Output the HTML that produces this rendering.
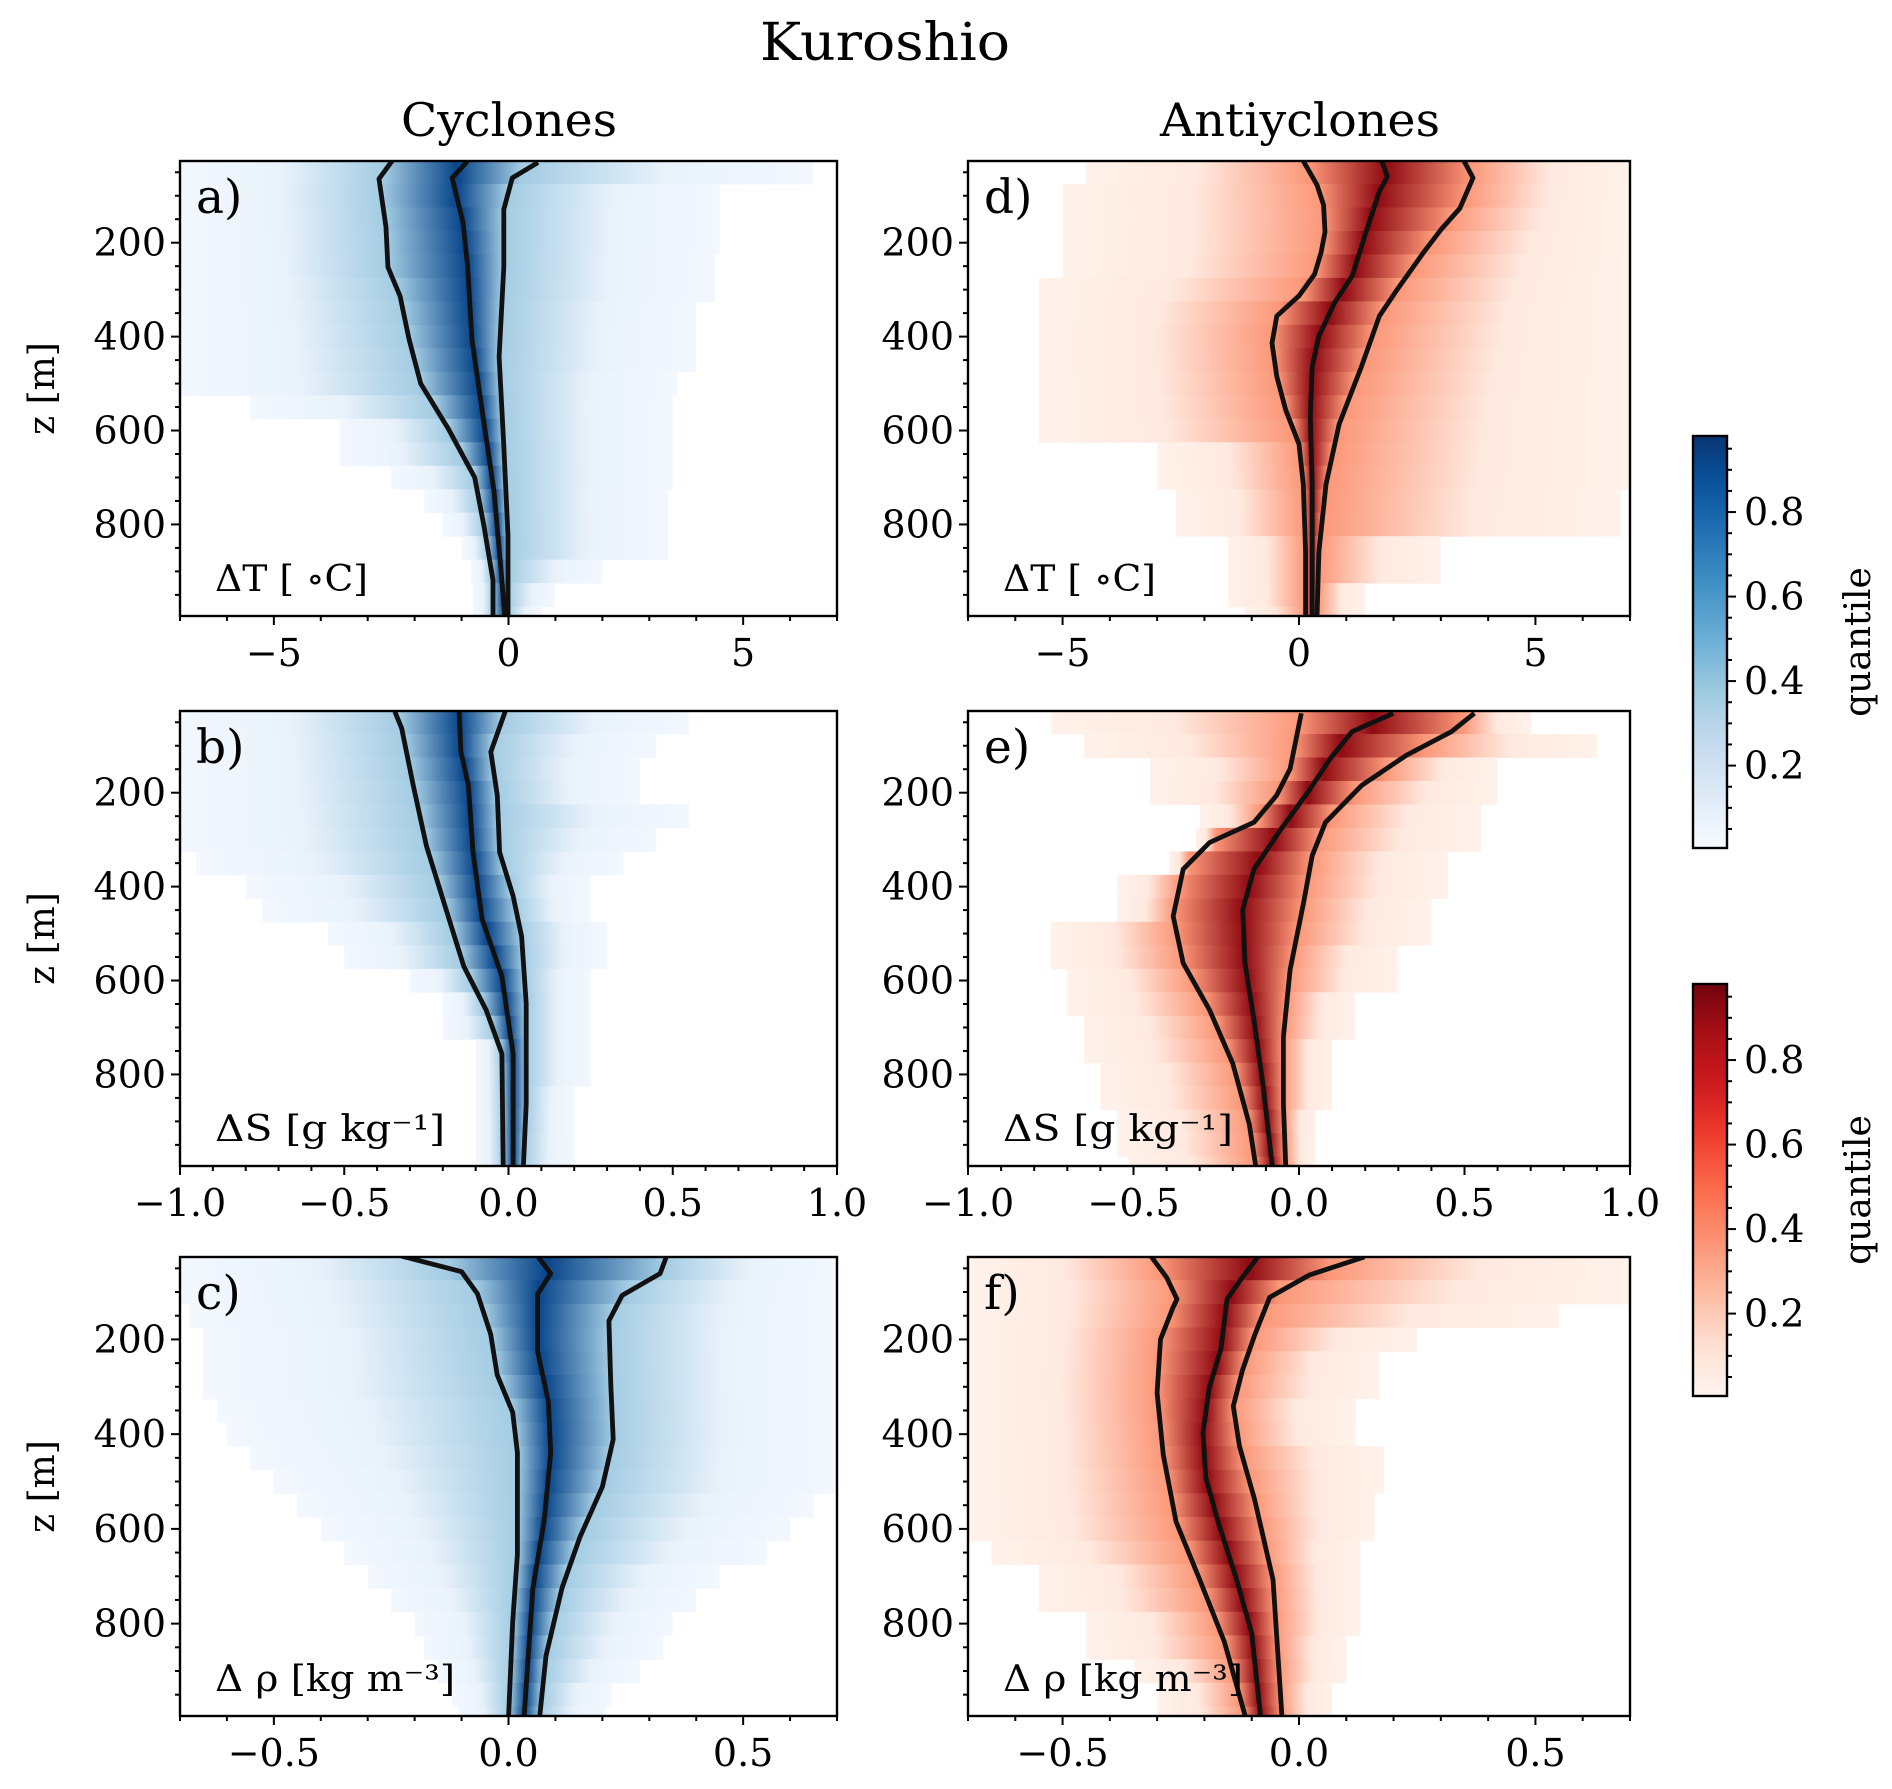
<!DOCTYPE html>
<html><head><meta charset="utf-8">
<style>
html,body{margin:0;padding:0;background:#fff;}
svg{display:block;font-family:"DejaVu Serif","Liberation Serif",serif;}
</style></head>
<body>
<svg id="fig" width="1892" height="1789" viewBox="0 0 1892 1789" xmlns="http://www.w3.org/2000/svg">
<defs id="defs"></defs>
<text x="885" y="60" font-size="52" text-anchor="middle" textLength="250" lengthAdjust="spacingAndGlyphs">Kuroshio</text>
<text x="509" y="136" font-size="46" text-anchor="middle" textLength="216" lengthAdjust="spacingAndGlyphs">Cyclones</text>
<text x="1300" y="136" font-size="46" text-anchor="middle" textLength="280" lengthAdjust="spacingAndGlyphs">Antiyclones</text>
</svg>
<script>
// ---- data: depth bins for extents ----
const extZ = [50,100,150,200,250,300,350,400,450,500,550,600,650,700,750,800,850,900,950,1000];
// panel a (dT cyclones)
const aLz=[26,64,167,252,314,405,500,595,700,805,919,995];
const aLv=[-2.48,-2.76,-2.61,-2.57,-2.31,-2.12,-1.87,-1.29,-0.72,-0.52,-0.33,-0.33];
const aMz=[26,62,157,252,405,538,729,919,995];
const aMv=[-0.87,-1.2,-0.97,-0.87,-0.78,-0.59,-0.31,-0.14,-0.08];
const aRz=[29,62,129,252,443,633,824,995];
const aRv=[0.63,0.08,-0.1,-0.1,-0.2,-0.1,-0.01,-0.01];
const aLo=[-7,-7,-7,-7,-7,-7,-7,-7,-7,-7,-5.5,-3.6,-3.6,-2.5,-1.8,-1.4,-1.0,-0.8,-0.6,-0.5];
const aHi=[6.5,4.5,4.5,4.5,4.4,4.4,4,4,4,3.6,3.5,3.5,3.5,3.5,3.4,3.4,3.4,2,1,0.6];
// panel b (dS cyclones)
const bLz=[27,63,184,313,449,570,663,756,999];
const bLv=[-0.346,-0.325,-0.29,-0.25,-0.19,-0.136,-0.068,-0.02,-0.016];
const bMz=[27,113,184,327,470,591,756,999];
const bMv=[-0.15,-0.145,-0.122,-0.108,-0.08,-0.02,0.014,0.014];
const bRz=[27,113,206,327,420,506,649,863,999];
const bRv=[-0.01,-0.054,-0.034,-0.027,0.014,0.04,0.054,0.054,0.045];
const bLo=[-1,-1,-1,-1,-1,-1,-0.95,-0.8,-0.75,-0.55,-0.5,-0.3,-0.2,-0.2,-0.1,-0.1,-0.1,-0.1,-0.1,-0.1];
const bHi=[0.55,0.45,0.4,0.4,0.55,0.45,0.35,0.25,0.25,0.3,0.3,0.25,0.25,0.25,0.25,0.25,0.2,0.2,0.2,0.2];
// panel c (drho cyclones)
const cLz=[24,57,104,189,275,354,439,654,796,1000];
const cLv=[-0.228,-0.1,-0.066,-0.038,-0.024,0.009,0.019,0.019,0.009,0];
const cMz=[24,61,104,225,332,439,582,725,1000];
const cMv=[0.062,0.09,0.062,0.062,0.085,0.09,0.076,0.052,0.033];
const cRz=[24,61,107,161,296,411,511,618,725,868,1000];
const cRv=[0.337,0.323,0.242,0.214,0.218,0.223,0.2,0.152,0.114,0.08,0.066];
const cLo=[-0.7,-0.7,-0.68,-0.65,-0.65,-0.65,-0.62,-0.6,-0.55,-0.5,-0.45,-0.4,-0.35,-0.3,-0.25,-0.2,-0.18,-0.15,-0.12,-0.1];
const cHi=[0.7,0.7,0.7,0.7,0.7,0.7,0.7,0.7,0.7,0.7,0.65,0.6,0.55,0.45,0.4,0.35,0.33,0.28,0.22,0.2];
// panel d (dT anticyclones)
const dLz=[26,77,120,177,220,267,313,356,414,485,557,629,715,858,998];
const dLv=[0.09,0.38,0.52,0.55,0.47,0.33,0,-0.47,-0.57,-0.47,-0.28,0,0.09,0.14,0.14];
const dMz=[26,59,91,177,270,328,399,464,571,715,998];
const dMv=[1.75,1.87,1.7,1.42,1.13,0.75,0.42,0.28,0.24,0.28,0.28];
const dRz=[26,62,127,170,220,299,356,464,586,715,858,998];
const dRv=[3.49,3.68,3.4,3.02,2.64,2.08,1.7,1.32,0.85,0.57,0.42,0.38];
const dLo=[-4.5,-5,-5,-5,-5,-5.5,-5.5,-5.5,-5.5,-5.5,-5.5,-5.5,-3,-3,-2.6,-2.6,-1.5,-1.5,-1.5,-1];
const dHi=[7,7,7,7,7,7,7,7,7,7,7,7,7,7,6.8,6.8,3,3,1.4,1.4];
// panel e (dS anticyclones)
const eLz=[31,149,206,263,306,363,463,563,663,777,906,999];
const eLv=[0.007,-0.027,-0.068,-0.136,-0.27,-0.35,-0.38,-0.35,-0.27,-0.2,-0.15,-0.13];
const eMz=[31,70,127,199,277,363,449,563,684,827,999];
const eMv=[0.285,0.16,0.095,0.027,-0.054,-0.136,-0.17,-0.163,-0.136,-0.108,-0.08];
const eRz=[31,70,120,184,263,334,434,577,720,863,999];
const eRv=[0.53,0.46,0.325,0.19,0.08,0.04,0.014,-0.027,-0.047,-0.047,-0.04];
const eLo=[-0.75,-0.65,-0.45,-0.45,-0.3,-0.3,-0.3,-0.55,-0.55,-0.75,-0.75,-0.7,-0.7,-0.65,-0.65,-0.6,-0.6,-0.55,-0.55,-0.5];
const eHi=[0.7,0.9,0.6,0.6,0.55,0.55,0.45,0.45,0.4,0.4,0.3,0.3,0.17,0.17,0.1,0.1,0.1,0.05,0.05,0.05];
// panel f (drho anticyclones)
const fLz=[26,69,115,134,200,313,444,585,707,838,998];
const fLv=[-0.312,-0.28,-0.258,-0.267,-0.293,-0.3,-0.287,-0.26,-0.21,-0.158,-0.113];
const fMz=[26,69,115,219,303,397,491,585,707,820,998];
const fMv=[-0.087,-0.12,-0.152,-0.165,-0.19,-0.203,-0.197,-0.171,-0.132,-0.1,-0.081];
const fRz=[26,64,111,191,266,341,425,538,707,998];
const fRv=[0.138,0.022,-0.062,-0.094,-0.12,-0.139,-0.126,-0.094,-0.055,-0.036];
const fLo=[-0.7,-0.7,-0.7,-0.7,-0.7,-0.7,-0.7,-0.7,-0.7,-0.7,-0.7,-0.7,-0.65,-0.55,-0.55,-0.45,-0.45,-0.35,-0.3,-0.3];
const fHi=[0.7,0.7,0.55,0.25,0.17,0.17,0.12,0.12,0.18,0.18,0.16,0.16,0.13,0.13,0.13,0.13,0.1,0.1,0.07,0.07];
// axes ticks
const zTicks=[200,400,600,800];
const tTicks=[-5,0,5];
const sTicks=[-1.0,-0.5,0.0,0.5,1.0];
const rTicks=[-0.5,0.0,0.5];
const cbTicks=[0.2,0.4,0.6,0.8];

const BLUES=["#f7fbff","#deebf7","#c6dbef","#9ecae1","#6baed6","#4292c6","#2171b5","#08519c","#08306b"];
const REDS=["#fff5f0","#fee0d2","#fcbba1","#fc9272","#fb6a4a","#ef3b2c","#cb181d","#a50f15","#67000d"];
function cmap(c,t){t=Math.max(0,Math.min(1,t));const s=t*8,i=Math.min(7,Math.floor(s)),f=s-i;
 const a=c[i],b=c[i+1];const h=(x,k)=>parseInt(x.substr(k,2),16);
 const r=[1,3,5].map(k=>Math.round(h(a,k)+(h(b,k)-h(a,k))*f));return `rgb(${r[0]},${r[1]},${r[2]})`;}
function interp(zs,vs,z){if(z<=zs[0])return vs[0];for(let i=1;i<zs.length;i++){if(z<=zs[i]){const f=(z-zs[i-1])/(zs[i]-zs[i-1]);return vs[i-1]+f*(vs[i]-vs[i-1]);}}return vs[vs.length-1];}

const svg=document.getElementById('fig');
const defs=document.getElementById('defs');
const NS="http://www.w3.org/2000/svg";
function mk(tag,attrs,parent){const e=document.createElementNS(NS,tag);for(const k in attrs)e.setAttribute(k,attrs[k]);(parent||svg).appendChild(e);return e;}

const Z0=26,Z1=995;
const fmtT=v=>v===0?'0':(v<0?'\u2212'+(-v):''+v);
const fmtD=v=>(v<0?'\u2212':'')+Math.abs(v).toFixed(1);
const panels=[
 {id:'a',x0:180,x1:837,y0:161,y1:616,vmin:-7,vmax:7,cm:BLUES,L:[aLz,aLv],M:[aMz,aMv],R:[aRz,aRv],lo:aLo,hi:aHi,ticks:tTicks,minor:1,fmt:fmtT,unit:'ΔT [ ∘C]',ulen:153,ylab:true},
 {id:'b',x0:180,x1:837,y0:711,y1:1166,vmin:-1,vmax:1,cm:BLUES,L:[bLz,bLv],M:[bMz,bMv],R:[bRz,bRv],lo:bLo,hi:bHi,ticks:sTicks,minor:0.1,fmt:fmtD,unit:'ΔS [g kg⁻¹]',ulen:230,ylab:true},
 {id:'c',x0:180,x1:837,y0:1257,y1:1716,vmin:-0.7,vmax:0.7,cm:BLUES,L:[cLz,cLv],M:[cMz,cMv],R:[cRz,cRv],lo:cLo,hi:cHi,ticks:rTicks,minor:0.1,fmt:fmtD,unit:'Δ ρ [kg m⁻³]',ulen:240,ylab:true},
 {id:'d',x0:968,x1:1630,y0:161,y1:616,vmin:-7,vmax:7,cm:REDS,L:[dLz,dLv],M:[dMz,dMv],R:[dRz,dRv],lo:dLo,hi:dHi,ticks:tTicks,minor:1,fmt:fmtT,unit:'ΔT [ ∘C]',ulen:153,ylab:false},
 {id:'e',x0:968,x1:1630,y0:711,y1:1166,vmin:-1,vmax:1,cm:REDS,L:[eLz,eLv],M:[eMz,eMv],R:[eRz,eRv],lo:eLo,hi:eHi,ticks:sTicks,minor:0.1,fmt:fmtD,unit:'ΔS [g kg⁻¹]',ulen:230,ylab:false},
 {id:'f',x0:968,x1:1630,y0:1257,y1:1716,vmin:-0.7,vmax:0.7,cm:REDS,L:[fLz,fLv],M:[fMz,fMv],R:[fRz,fRv],lo:fLo,hi:fHi,ticks:rTicks,minor:0.1,fmt:fmtD,unit:'Δ ρ [kg m⁻³]',ulen:240,ylab:false}
];

panels.forEach(p=>{
 const X=v=>p.x0+(v-p.vmin)/(p.vmax-p.vmin)*(p.x1-p.x0);
 const Y=z=>p.y0+(z-Z0)/(Z1-Z0)*(p.y1-p.y0);
 const g=mk('g',{});
 
 
 const cp=mk('clipPath',{id:'clip'+p.id},defs);
 mk('rect',{x:p.x0,y:p.y0,width:p.x1-p.x0,height:p.y1-p.y0},cp);
 const hm=mk('g',{'clip-path':`url(#clip${p.id})`},g);
 
 
 const edges=[Z0];for(let z=75;z<Z1;z+=50)edges.push(z);edges.push(Z1);
 const rng=p.vmax-p.vmin;
 for(let k=0;k<edges.length-1;k++){
  const zc=(edges[k]+edges[k+1])/2;
  const qs=[interp(p.L[0],p.L[1],zc),interp(p.M[0],p.M[1],zc),interp(p.R[0],p.R[1],zc)].sort((a,b)=>a-b);
  let lo=interp(extZ,p.lo,zc),hi=interp(extZ,p.hi,zc);
  lo=Math.min(lo,qs[0]-0.03*rng);hi=Math.max(hi,qs[2]+0.03*rng);
  const pos=[lo,(lo+qs[0])/2,qs[0],qs[1],qs[2],(qs[2]+hi)/2,hi];
  const val=[0.02,0.07,0.36,0.92,0.36,0.07,0.02];
  const gid='gr'+p.id+k;
  const lg=mk('linearGradient',{id:gid,gradientUnits:'userSpaceOnUse',x1:X(lo),x2:X(hi),y1:0,y2:0},defs);
  pos.forEach((v,i)=>{mk('stop',{offset:((v-lo)/(hi-lo)).toFixed(4),'stop-color':cmap(p.cm,val[i])},lg);});
  const r=mk('rect',{x:X(lo),y:Y(edges[k]),width:X(hi)-X(lo),height:Y(edges[k+1])-Y(edges[k])+0.5,fill:`url(#${gid})`},hm);
  
  
 }
 [['q-lower',p.L],['q-median',p.M],['q-upper',p.R]].forEach(([nm,d])=>{
  const pts=d[0].map((z,i)=>X(d[1][i]).toFixed(1)+','+Y(z).toFixed(1)).join(' ');
  const pl=mk('polyline',{points:pts,fill:'none',stroke:'#111','stroke-width':4.8,'stroke-linejoin':'round'},hm);
  
  
 });
 const fr=mk('rect',{x:p.x0,y:p.y0,width:p.x1-p.x0,height:p.y1-p.y0,fill:'none',stroke:'#000','stroke-width':2.4},g);
 
 
 for(let z=50;z<=Z1;z+=50){const maj=zTicks.indexOf(z)>=0;
  mk('line',{x1:p.x0,x2:p.x0-(maj?9:5),y1:Y(z),y2:Y(z),stroke:'#000','stroke-width':2},g);}
 zTicks.forEach(z=>{const t=mk('text',{x:p.x0-14,y:Y(z)+13,'font-size':38,'text-anchor':'end'},g);t.textContent=z;
  
  });
 const n0=Math.ceil(p.vmin/p.minor-1e-6),n1=Math.floor(p.vmax/p.minor+1e-6);
 for(let n=n0;n<=n1;n++){const v=n*p.minor;const maj=p.ticks.some(t=>Math.abs(t-v)<1e-6);
  mk('line',{x1:X(v),x2:X(v),y1:p.y1,y2:p.y1+(maj?9:5),stroke:'#000','stroke-width':2},g);}
 p.ticks.forEach(v=>{const t=mk('text',{x:X(v),y:p.y1+50,'font-size':38,'text-anchor':'middle'},g);t.textContent=p.fmt(v);
  
  });
 const lt=mk('text',{x:p.x0+16,y:p.y0+52,'font-size':47},g);lt.textContent=p.id+')';
 
 
 const ut=mk('text',{x:p.x0+35,y:p.y1-25,'font-size':36,textLength:p.ulen,lengthAdjust:'spacingAndGlyphs'},g);ut.textContent=p.unit;
 
 
 if(p.ylab){const yl=mk('text',{x:0,y:0,'font-size':36,'text-anchor':'middle',transform:`translate(54,${(p.y0+p.y1)/2}) rotate(-90)`},g);yl.textContent='z [m]';
  
  }
});

[{cm:BLUES,y0:436,y1:848,nm:'blue'},{cm:REDS,y0:984,y1:1396,nm:'red'}].forEach(c=>{
 const vmin=0.005,vmax=0.98,x0=1693,x1=1727;
 const Y=v=>c.y1-(v-vmin)/(vmax-vmin)*(c.y1-c.y0);
 const g=mk('g',{});
 
 
 const lg=mk('linearGradient',{id:'cb'+c.nm,x1:0,y1:1,x2:0,y2:0},defs);
 for(let i=0;i<=16;i++){const t=i/16;mk('stop',{offset:t,'stop-color':cmap(c.cm,vmin+t*(vmax-vmin))},lg);}
 mk('rect',{x:x0,y:c.y0,width:x1-x0,height:c.y1-c.y0,fill:`url(#cb${c.nm})`,stroke:'#000','stroke-width':2.4},g);
 for(let i=1;i<=19;i++){const v=i*0.05;const maj=cbTicks.some(t=>Math.abs(t-v)<1e-6);
  mk('line',{x1:x1,x2:x1+(maj?9:5),y1:Y(v),y2:Y(v),stroke:'#000','stroke-width':2},g);}
 cbTicks.forEach(v=>{const t=mk('text',{x:x1+17,y:Y(v)+13,'font-size':38},g);t.textContent=v.toFixed(1);
  
  });
 const lb=mk('text',{x:0,y:0,'font-size':36,'text-anchor':'middle',transform:`translate(1870,${(c.y0+c.y1)/2}) rotate(-90)`},g);lb.textContent='quantile';
 
 
});
</script>
</body></html>
